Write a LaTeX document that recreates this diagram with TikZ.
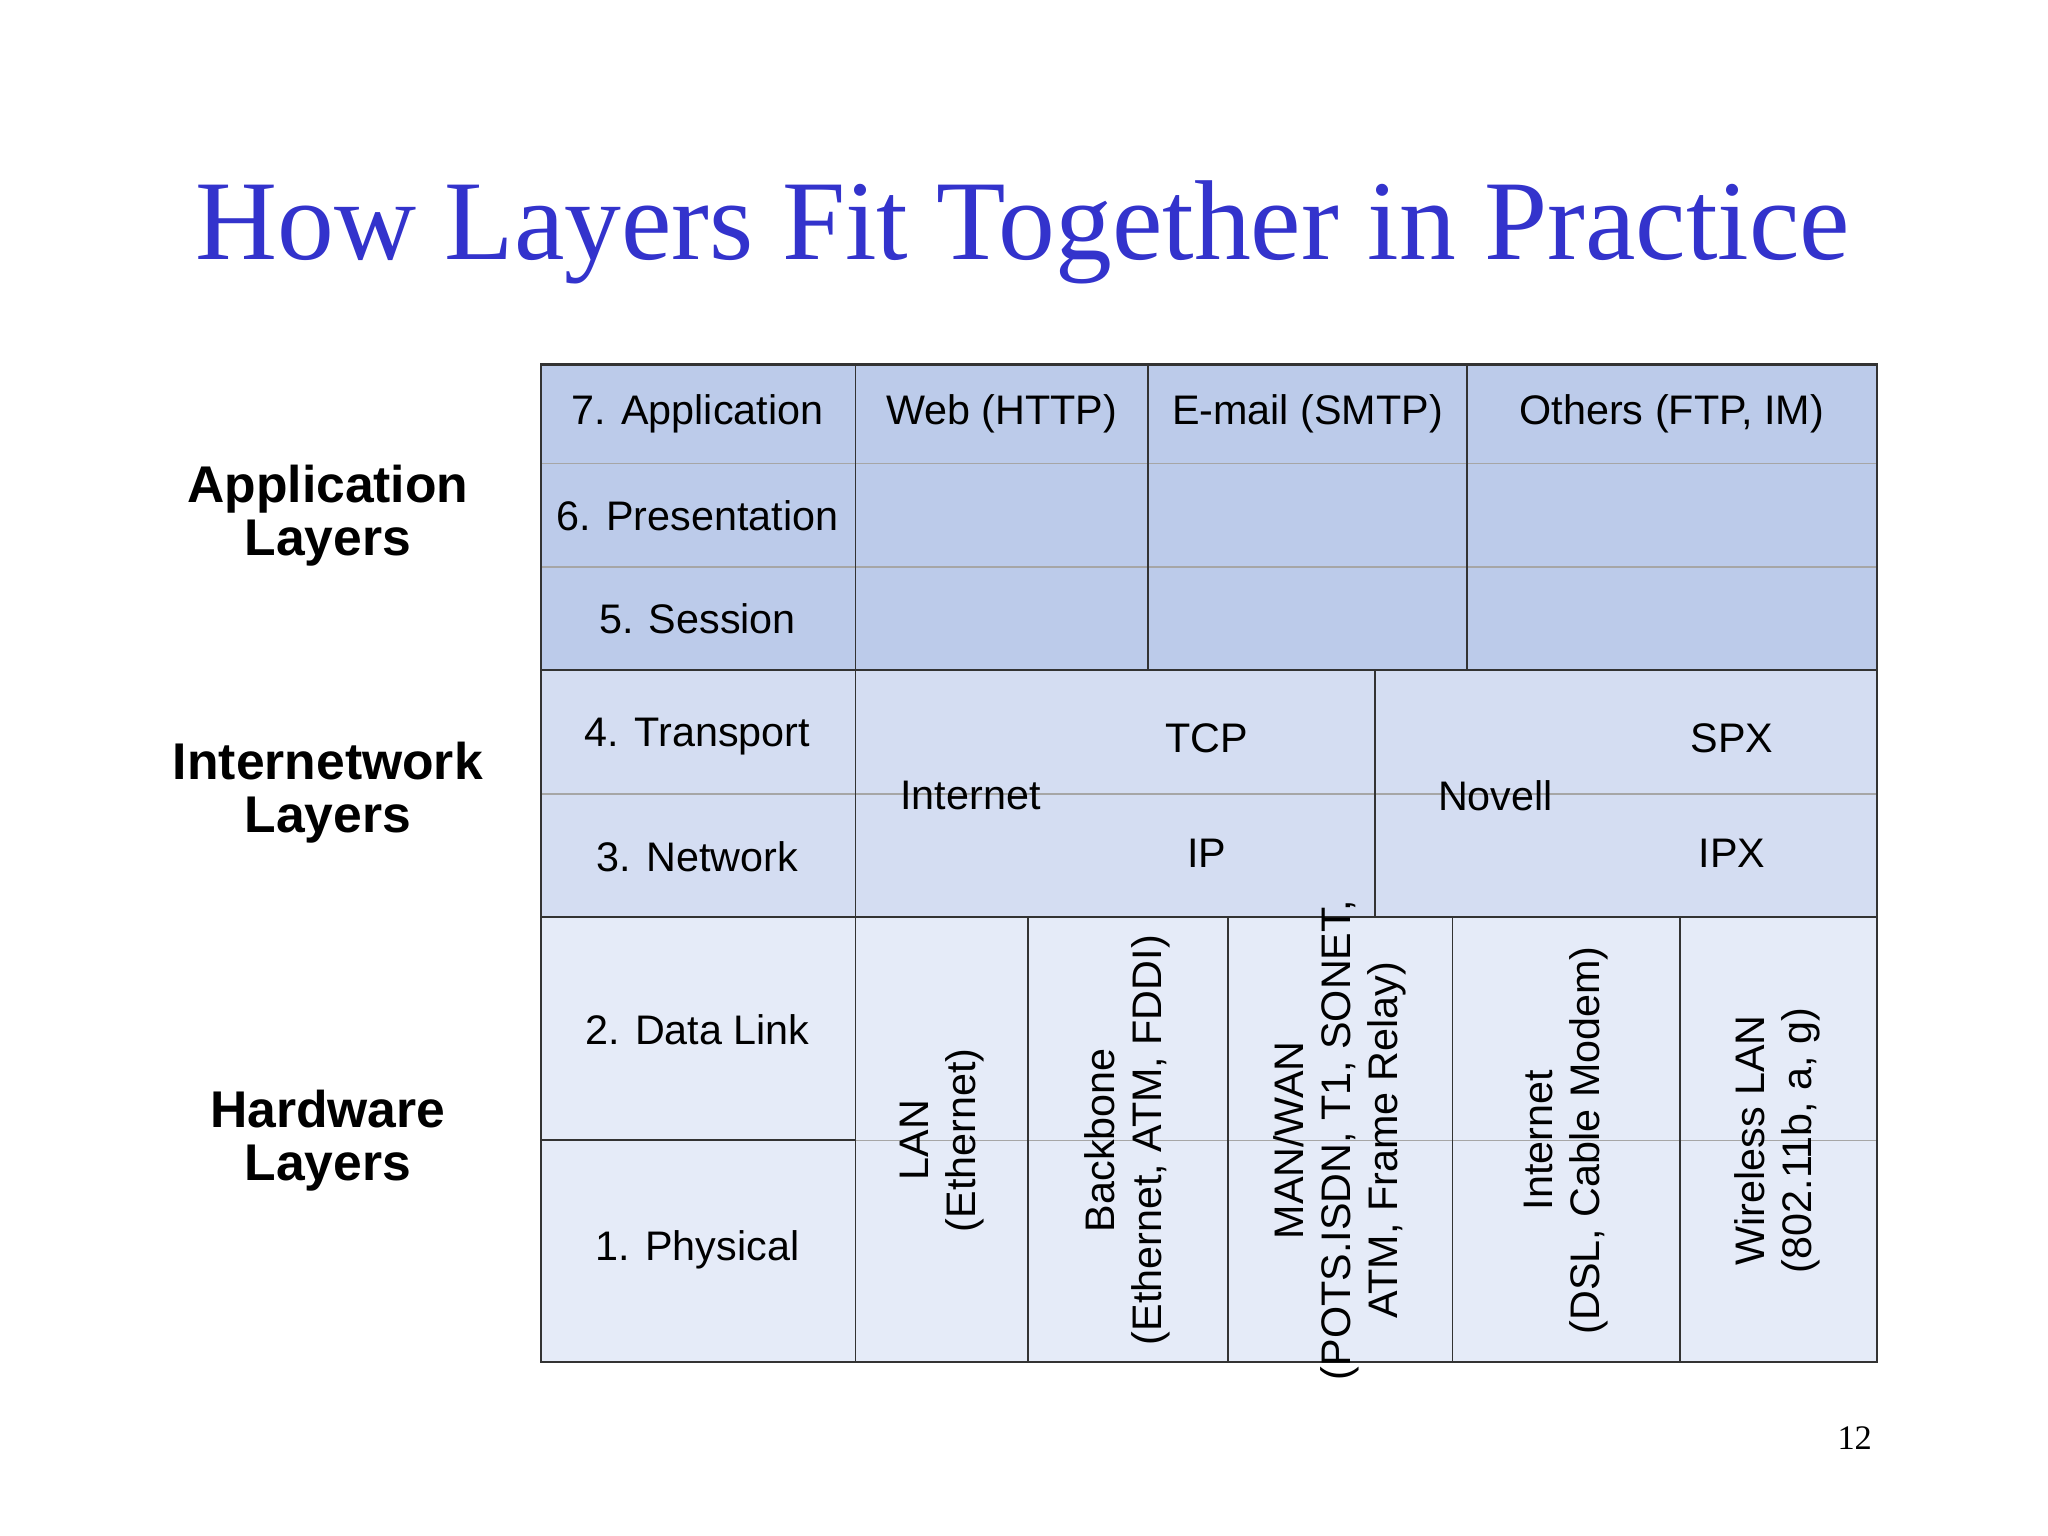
\documentclass[tikz,border=0pt]{standalone}
\usepackage{fontspec}
\setmainfont{Liberation Sans}
\newfontfamily\titlefont{Liberation Serif}
\begin{document}
\begin{tikzpicture}[x=0.02cm,y=-0.02cm,
  cellA/.style={fill=appblue,draw=gray!70,line width=0.6pt},
  cellB/.style={fill=netblue,draw=gray!70,line width=0.6pt},
  cellC/.style={fill=hwblue,draw=gray!70,line width=0.6pt},
  txt/.style={font=\fontsize{18}{20.5}\selectfont,inner sep=0pt},
  side/.style={font=\fontsize{22.5}{23}\selectfont\bfseries,align=center,inner sep=0pt},
  rot/.style={txt,rotate=90,align=center}]
\definecolor{appblue}{HTML}{BCCBEA}
\definecolor{netblue}{HTML}{D4DDF2}
\definecolor{hwblue}{HTML}{E5EBF8}
\definecolor{titleblue}{HTML}{3333CC}
\useasboundingbox (0,0) rectangle (1568,1176);
\node[font=\titlefont\fontsize{49.5}{52}\selectfont,text=titleblue] (title) at (783,178) {How Layers Fit Together in Practice};
% application block
\foreach \ya/\yb in {279/355,355/434,434/513}{
  \foreach \xa/\xb in {414/655,655/879,879/1123,1123/1437}{
    \draw[cellA] (\xa,\ya) rectangle (\xb,\yb);}}
% internetwork block
\draw[cellB] (414,513) rectangle (655,608);
\draw[cellB] (414,608) rectangle (655,702);
\draw[cellB] (655,513) rectangle (1053,702);
\draw[cellB] (1053,513) rectangle (1437,702);
\draw[gray!70,line width=0.6pt] (655,608) -- (1437,608);
% hardware block
\draw[cellC] (414,702) rectangle (655,873);
\draw[cellC] (414,873) rectangle (655,1043);
\foreach \xa/\xb in {655/787,787/940,940/1112,1112/1286,1286/1437}{
  \draw[cellC] (\xa,702) rectangle (\xb,1043);}
\draw[gray!70,line width=0.6pt] (655,873) -- (1437,873);
\draw[gray!40!black,line width=1pt] (655,873) -- (414,873);
\draw[gray!40!black,line width=1pt] (414,279) rectangle (1437,1043);
\draw[gray!40!black,line width=1pt] (414,513) -- (1437,513) (414,702) -- (1437,702);
\foreach \x in {655,879,1123}{\draw[gray!40!black,line width=0.8pt] (\x,279) -- (\x,513);}
\draw[gray!40!black,line width=0.8pt] (655,513) -- (655,1043) (1053,513) -- (1053,702);
\foreach \x in {787,940,1112,1286}{\draw[gray!40!black,line width=0.8pt] (\x,702) -- (\x,1043);}
% texts
\node[txt] (l7) at (534,317) {7. Application};
\node[txt] (l6) at (534,395) {6. Presentation};
\node[txt] (l5) at (534,474) {5. Session};
\node[txt] (l4) at (534,564) {4. Transport};
\node[txt] (l3) at (534,656) {3. Network};
\node[txt] (l2) at (534,788) {2. Data Link};
\node[txt] (l1) at (534,957) {1. Physical};
\node[txt] (web) at (767,317) {Web (HTTP)};
\node[txt] (mail) at (1001,317) {E-mail (SMTP)};
\node[txt] (oth) at (1280,317) {Others (FTP, IM)};
\node[txt] (tcp) at (924,565) {TCP};
\node[txt] (ip) at (924,653) {IP};
\node[txt] (inet) at (743,609) {Internet};
\node[txt] (spx) at (1326,565) {SPX};
\node[txt] (ipx) at (1326,653) {IPX};
\node[txt] (nov) at (1145,609) {Novell};
\node[rot] (lan) at (721,873) {LAN\\(Ethernet)};
\node[rot] (bb) at (863,873) {Backbone\\(Ethernet, ATM, FDDI)};
\node[rot] (man) at (1026,873) {MAN/WAN\\(POTS.ISDN, T1, SONET,\\ATM, Frame Relay)};
\node[rot] (int) at (1199,873) {Internet\\(DSL, Cable Modem)};
\node[rot] (wl) at (1361,873) {Wireless LAN\\(802.11b, a, g)};
\node[side] (sa) at (251,395) {Application\\Layers};
\node[side] (si) at (251,607) {Internetwork\\Layers};
\node[side] (sh) at (251,873) {Hardware\\Layers};
\node[font=\titlefont\fontsize{15}{17}\selectfont] (pg) at (1420,1101) {12};
\end{tikzpicture}
\end{document}
